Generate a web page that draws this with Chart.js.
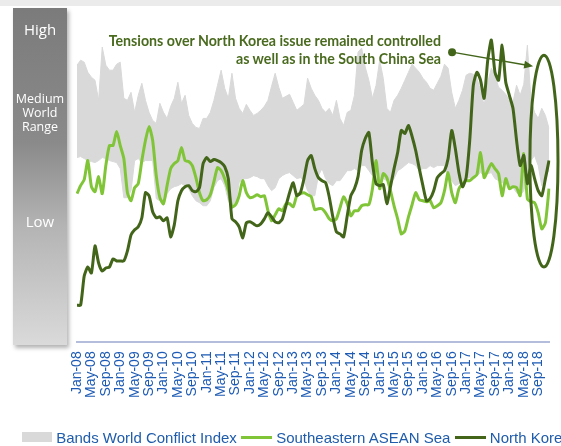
<!DOCTYPE html>
<html>
<head>
  <title>World Conflict Index</title>
  <script src="https://cdn.jsdelivr.net/npm/chart.js"></script>
  <style>
    body { margin: 0; background: #fff; }
    #wrap { position: relative; width: 561px; height: 446px; overflow: hidden; }
    #topStrip { position: absolute; left: 0; top: 0; width: 561px; height: 6px; background: #ebebeb; }
    #scaleBar {
      position: absolute; left: 13px; top: 8px; width: 54px; height: 337px;
      background: linear-gradient(#7b7b7b, #8a8a8a 40%, #b4b4b4 65%, #dadada);
      box-shadow: 2px 3px 4px rgba(0,0,0,0.3);
      color: #fff; font-family: 'Open Sans', sans-serif; text-align: center;
    }
    #scaleBar div { position: absolute; left: 0; width: 54px; }
    #note {
      position: absolute; right: 120px; top: 32px; text-align: right;
      font: bold 14.2px Lato, sans-serif; line-height: 18px; color: #4a6b1f;
    }
    #legend {
      position: absolute; left: 22px; top: 427px; white-space: nowrap;
      font: 15px 'Liberation Sans', Arial, sans-serif; color: #1f5cab;
    }
    #legend span { display: inline-block; vertical-align: middle; }
  </style>
</head>
<body>
<div id="wrap">
  <div id="topStrip"></div>
  <canvas id="conflictChart" width="561" height="446"></canvas>
  <div id="scaleBar">
    <div style="top:11px;font-size:15px;">High</div>
    <div style="top:84px;font-size:12.5px;line-height:14px;">Medium<br>World<br>Range</div>
    <div style="top:203px;font-size:15px;">Low</div>
  </div>
  <div id="note">Tensions over North Korea issue remained controlled<br>as well as in the South China Sea</div>
  <div id="legend">
    <span style="width:30px;height:10px;background:#d9d9d9;"></span>
    <span>Bands World Conflict Index</span>
    <span style="width:31px;height:3px;background:#80c537;"></span>
    <span>Southeastern ASEAN Sea</span>
    <span style="width:31px;height:3px;background:#42651a;"></span>
    <span>North Korea</span>
  </div>
</div>

<script>
  const monthNames = ['Jan','Feb','Mar','Apr','May','Jun','Jul','Aug','Sep','Oct','Nov','Dec'];
  const years = ['08','09','10','11','12','13','14','15','16','17','18'];

  // monthly index values, Jan-08 .. Dec-18
  const bandHigh = [
    138,140.5,139.5,134.5,132,130.5,120.5,147,138,135.5,135.5,138.5,
    139.5,121.5,120.5,124.5,114.5,123,129,120.5,114.5,110.5,109,119,
    114.5,111.5,117.5,121.5,129.5,119,123,113,109,107,106.5,111.5,
    111.5,114.5,120.5,128,135.5,126.5,121.5,134,121.5,116.5,114,118.5,
    115.5,113,114,115.5,117.5,120.5,127.5,134,127,121.5,122.5,123.5,
    119.5,115.5,117,118.5,131.5,126.5,123,120.5,116.5,114.5,116.5,113,
    120.5,111.5,108,114.5,115.5,123,144.5,146.5,137,130.5,121.5,128,
    140.5,131.5,116.5,114.5,120.5,123,126.5,130.5,134.5,138.5,136.5,134.5,
    131.5,129.5,126.5,125.5,129,132.5,138.5,136.5,124.5,116.5,120.5,125.5,
    133,134,133.5,131.5,125.5,118,129.5,136.5,133,127,125.5,123.5,
    120.5,119.5,128,123,128.5,148,120.5,114.5,111.5,116.5,113,106.5
  ];
  const bandLow = [
    92,92.5,91.5,90.5,90,89.5,90.5,92,91.5,90.5,90,89.5,
    86.5,72,72,75.5,90.5,91.5,89.5,90.5,90.5,90.5,71.5,70.5,
    68,74,76.5,77.5,78,79,78,76.5,73,70.5,69.5,68,
    68,70.5,77,80.5,81.5,78,70.5,66.5,68,79.5,81.5,81.5,
    82,83,82.5,81.5,81.5,78,75.5,77,81.5,83,84,84.5,
    83,81.5,82,80.5,75.5,73,73,83,86.5,81.5,79,78,
    80.5,80.5,83,85.5,85.5,86.5,85.5,88,88,85.5,83,86.5,
    80.5,81.5,80.5,79.5,81.5,85.5,86.5,88,89.5,89,88,85.5,
    86.5,86.5,88,87,88,88,88,83,80.5,78,79,80.5,
    81.5,82,82.5,83,84.5,83,84,84.5,81.5,80.5,79.5,79.5,
    78,77,74.5,73,75.5,83,90.5,93,88,78,83,85.5
  ];
  const seAsean = [
    74,78,81,90.5,77.5,75,82.5,74,88,98,98,105,
    98,91.5,74.5,70.5,77,79,90.5,100.5,107.5,100.5,83,72,
    69,78,86.5,89,90.5,97,90.5,90,88,82,74.5,70.5,
    71,73.5,80,87,85.5,81.5,75.5,67.5,68.5,73,80.5,74.5,
    72,72.5,73.5,72.5,73,65.5,60.5,63.5,66.5,65.5,69,69,
    67.5,73,74,74.5,73.5,72.5,66,66.5,66.5,64.5,61.5,60.5,
    61.5,67,72.5,69,63,65.5,65.5,68,68.5,68.5,76.5,90.5,
    76.5,84,82,75.5,68,61.5,54,55.5,62.5,68.5,74.5,71,
    70.5,70,70.5,67,68,69.5,75.5,84.5,74.5,69.5,76.5,79,
    80.5,80.5,82,83.5,94.5,82,85.5,89,86.5,84,73,81.5,
    76.5,77.5,77,73,94,71.5,70,69.5,64.5,56.5,59.5,76.5
  ];
  const northKorea = [
    18.5,18.5,33,37.5,34.5,48,39.5,35.5,37,37.5,41.5,40.5,
    40.5,40.5,45.5,53.5,56,57.5,62,74.5,73,65,62,62.5,
    60.5,62,52.5,58.5,70.5,75.5,77.5,78,75.5,75,77,89,
    92,90,91,90.5,89.5,87.5,81.5,61.5,60,57.5,52,59.5,
    60,59,58,59,61.5,64.5,62.5,60,59.5,61.5,68,74.5,
    79.5,73,74.5,81.5,90.5,93,86.5,82,80.5,79.5,72.5,62.5,
    55,54,52.5,63,73,76.5,82.5,95.5,101.5,104.5,89,79,
    78,78.5,69,77.5,86.5,94.5,105.5,104,108,102.5,95.5,86.5,
    78,70.5,71.5,75.5,82,84,85.5,91.5,105.5,96.5,84.5,77.5,
    82,100.5,128,134.5,130.5,121.5,140.5,150.5,134.5,130.5,148,129.5,
    123,116.5,100.5,88,93,79,88,81.5,75.5,73,81.5,90.5
  ];

  const labels = [];
  years.forEach(yr => monthNames.forEach(m => labels.push(m + '-' + yr)));

  const darkGreen = '#42651a';

  const notePlugin = {
    id: 'notePlugin',
    afterDatasetsDraw(chart) {
      const ctx = chart.ctx;
      const x = chart.scales.x, y = chart.scales.y;
      // ellipse round the last months
      const left = x.getPixelForValue(125.7), right = x.getPixelForValue(133.5);
      const top = y.getPixelForValue(143), bottom = y.getPixelForValue(37.5);
      ctx.save();
      ctx.strokeStyle = darkGreen;
      ctx.fillStyle = darkGreen;
      ctx.lineWidth = 3;
      ctx.beginPath();
      ctx.ellipse((left + right) / 2, (top + bottom) / 2, (right - left) / 2, (bottom - top) / 2, 0, 0, Math.PI * 2);
      ctx.stroke();
      // arrow from the note
      const x0 = x.getPixelForValue(104.1), y0 = y.getPixelForValue(144.5);
      const x1 = x.getPixelForValue(126.6), y1 = y.getPixelForValue(137.5);
      ctx.beginPath();
      ctx.arc(x0, y0, 4, 0, Math.PI * 2);
      ctx.fill();
      ctx.lineWidth = 1.5;
      ctx.beginPath();
      ctx.moveTo(x0, y0);
      ctx.lineTo(x1 - 6, y1 - 1);
      ctx.stroke();
      const a = Math.atan2(y1 - y0, x1 - x0);
      ctx.beginPath();
      ctx.moveTo(x1, y1);
      ctx.lineTo(x1 - 9 * Math.cos(a) + 4 * Math.sin(a), y1 - 9 * Math.sin(a) - 4 * Math.cos(a));
      ctx.lineTo(x1 - 9 * Math.cos(a) - 4 * Math.sin(a), y1 - 9 * Math.sin(a) + 4 * Math.cos(a));
      ctx.closePath();
      ctx.fill();
      ctx.restore();
    }
  };

  new Chart(document.getElementById('conflictChart'), {
    type: 'line',
    data: {
      labels: labels,
      datasets: [
        { label: 'North Korea', data: northKorea, borderColor: darkGreen, borderWidth: 3, pointRadius: 0, tension: 0.2, fill: false },
        { label: 'Southeastern ASEAN Sea', data: seAsean, borderColor: '#80c537', borderWidth: 3, pointRadius: 0, tension: 0.2, fill: false },
        { label: 'Bands World Conflict Index', data: bandHigh, borderColor: '#d9d9d9', borderWidth: 1, backgroundColor: '#d9d9d9', pointRadius: 0, fill: '+1' },
        { label: 'band low', data: bandLow, borderColor: '#d9d9d9', borderWidth: 1, pointRadius: 0, fill: false }
      ]
    },
    options: {
      responsive: false,
      animation: false,
      layout: { padding: { left: 77, right: 12, top: 21, bottom: 39 } },
      plugins: { legend: { display: false }, tooltip: { enabled: false } },
      scales: {
        x: {
          offset: false,
          grid: { display: false, drawTicks: false },
          border: { display: true, color: '#b4bedc', width: 2 },
          afterFit: function (scale) { scale.paddingLeft = 0; scale.paddingRight = 0; },
          ticks: {
            autoSkip: false, minRotation: 90, maxRotation: 90, padding: 9,
            color: '#1d5bb5',
            font: { family: "'Liberation Sans', Arial, sans-serif", size: 14 },
            callback: function (v, i) { return i % 4 === 0 ? this.getLabelForValue(v) : ''; }
          }
        },
        y: { display: false, min: 0, max: 160 }
      }
    },
    plugins: [notePlugin]
  });
</script>
</body>
</html>
